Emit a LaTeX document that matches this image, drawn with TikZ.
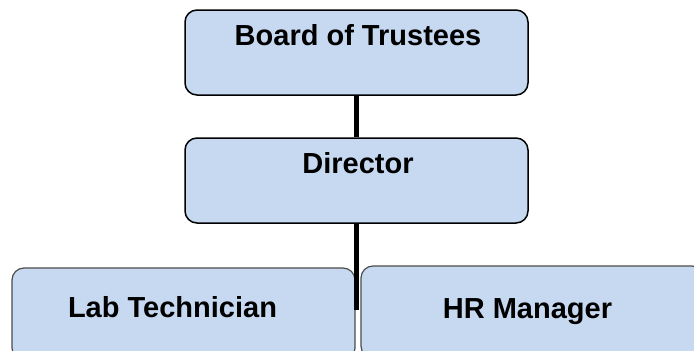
\documentclass[tikz,border=0pt]{standalone}
\usepackage{fontspec}
\setmainfont{Liberation Sans}
\definecolor{boxblue}{RGB}{198,217,241}
\tikzset{
  orgbox/.style={draw=black, line width=1.5pt, fill=boxblue, rounded corners=12pt,
                 minimum width=343pt, minimum height=85pt, inner sep=0pt},
  lowbox/.style={orgbox, draw=black!70, line width=1.2pt, minimum height=92pt},
  orgtext/.style={anchor=base, inner sep=0pt, font=\fontsize{29}{34}\selectfont\bfseries},
  link/.style={line width=4.5pt}
}
\begin{document}
\begin{tikzpicture}[x=1pt,y=-1pt]
    \useasboundingbox (0,0) rectangle (694,351);
    \clip (0,0) rectangle (694,351);

    % Top boxes
    \node[orgbox] (board) at (356.5,52.5) {};
    \node[orgbox] (director) at (356.5,180.5) {};

    % Bottom row, cut off by the page edge
    \node[lowbox] (lab) at (183.5,314) {};
    \node[lowbox] (hr) at (532.5,312) {};

    % Labels
    \node[orgtext] (boardtext) at (358,45) {Board of Trustees};
    \node[orgtext] (directortext) at (358,173) {Director};
    \node[orgtext] (labtext) at (172.5,317) {Lab Technician};
    \node[orgtext] (hrtext) at (527.5,318) {HR Manager};

    % Connectors
    \coordinate (drop) at (356.5,310);
    \draw[link] (board.south) -- (director.north);
    \draw[link] (director.south) -- (drop);
\end{tikzpicture}
\end{document}
